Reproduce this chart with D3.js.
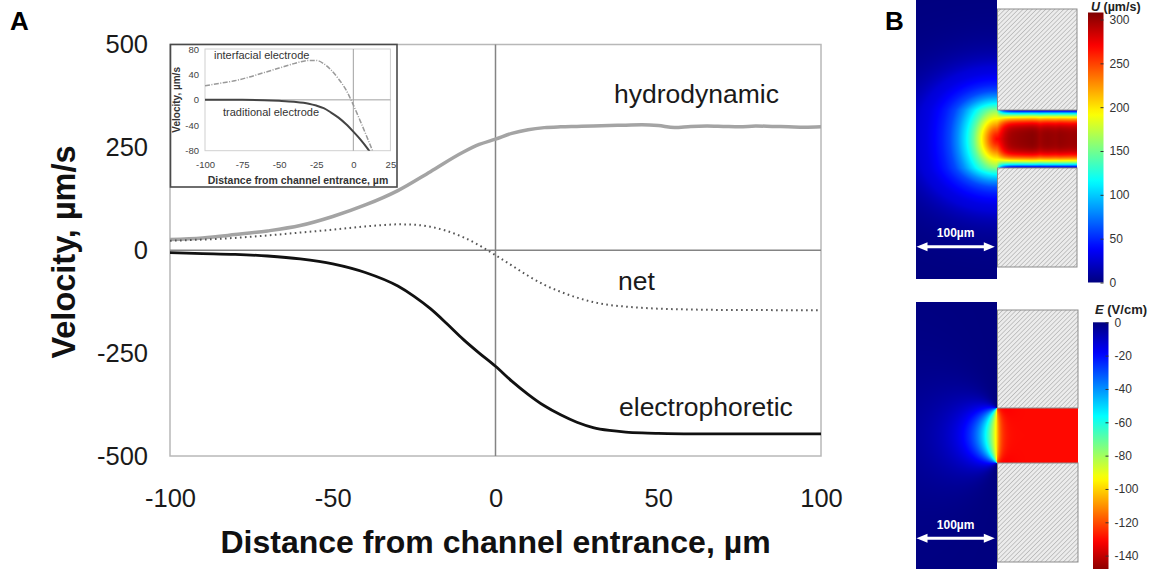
<!DOCTYPE html>
<html>
<head>
<meta charset="utf-8">
<script src="https://cdn.jsdelivr.net/npm/d3@7"></script>
<style>
  body { margin: 0; background: #fff; }
  svg { display: block; font-family: "Liberation Sans", Arial, sans-serif; }
</style>
</head>
<body>
<svg id="fig" width="1151" height="569"></svg>
<script>
// ---------- Panel A: velocity profiles along the channel axis (µm, µm/s) ----------
const hydroX = [-100,-90,-80,-70,-60,-50,-40,-30,-20,-10,-5,0,5,10,15,20,25,30,35,40,45,50,55,60,65,70,75,80,85,90,95,100];
const hydroV = [26,30,38,47,60,82,110,145,191,238,257,270,284,293,298,300,301,302,303,304,305,303,298,301,302,301,300,302,301,300,299,300];

const electroX = [-100,-90,-80,-70,-60,-50,-40,-30,-25,-20,-15,-10,-5,0,5,10,15,20,25,30,35,40,45,50,60,70,80,90,100];
const electroV = [-6,-8,-10,-14,-21,-33,-54,-87,-112,-142,-178,-216,-250,-282,-318,-350,-378,-400,-418,-431,-438,-442,-444,-445,-446,-446,-446,-446,-446];

const netX = [-100,-90,-80,-70,-60,-50,-40,-35,-30,-25,-20,-15,-10,-5,0,5,10,15,20,25,30,35,40,45,50,60,70,80,90,100];
const netV = [23,26,30,36,43,50,58,61,63,62,57,47,32,12,-12,-37,-62,-84,-101,-115,-126,-133,-137,-140,-142,-144,-145,-145,-146,-146];

const mainXTicks = [-100,-50,0,50,100];
const mainYTicks = [-500,-250,0,250,500];

// Inset: net velocity for the two electrode arrangements
const interfacialX = [-100,-90,-80,-70,-60,-50,-40,-30,-25,-20,-15,-10,-5,0,5,10,15];
const interfacialV = [22,26,30,36,43,50,57,62,62,57,47,33,16,-8,-35,-63,-92];
const traditionalX = [-100,-75,-60,-50,-40,-30,-25,-20,-15,-10,-5,0,5,10,15];
const traditionalV = [0,0,-0.5,-1.5,-3,-6,-9,-13,-20,-28,-38,-50,-63,-78,-95];

const insetXTicks = [-100,-75,-50,-25,0,25];
const insetYTicks = [-80,-40,0,40,80];

// ---------- Panel B: field maps ----------
const uTicks = [0,50,100,150,200,250,300];
const eTicks = [0,-20,-40,-60,-80,-100,-120,-140];
const uColorMax = 308;        // µm/s at the top of the U colour bar
const eColorMin = -150;       // V/cm at the bottom of the E colour bar
const eChannel = -130;        // uniform field inside the channel
const eEntrance = -100;       // field across the channel mouth
const eCorner = -20;          // extra field at the entrance corners

const FONT = '"Liberation Sans", Arial, sans-serif';
const svg = d3.select("#fig");
svg.append("rect").attr("width", 1151).attr("height", 569).attr("fill", "#fff");
const defs = svg.append("defs");

// ======================= Panel A =======================
const x = d3.scaleLinear([-100, 100], [170, 821]);
const y = d3.scaleLinear([-500, 500], [456, 44.5]);

svg.append("rect")
  .attr("x", x(-100)).attr("y", y(500))
  .attr("width", x(100) - x(-100)).attr("height", y(-500) - y(500))
  .attr("fill", "none").attr("stroke", "#b8b8b8").attr("stroke-width", 1.5);

svg.append("line").attr("x1", x(0)).attr("x2", x(0)).attr("y1", y(500)).attr("y2", y(-500))
  .attr("stroke", "#848484").attr("stroke-width", 1.5);
svg.append("line").attr("x1", x(-100)).attr("x2", x(100)).attr("y1", y(0)).attr("y2", y(0))
  .attr("stroke", "#848484").attr("stroke-width", 1.5);

const yAxis = svg.append("g").attr("transform", `translate(${x(-100)},0)`)
  .call(d3.axisLeft(y).tickValues(mainYTicks).tickSize(0).tickPadding(22).tickFormat(d => String(d)));
yAxis.select(".domain").remove();
yAxis.attr("font-family", FONT).attr("font-size", 25.5);
yAxis.selectAll("text").attr("fill", "#1a1a1a");

const xAxis = svg.append("g").attr("transform", `translate(0,${y(-500)})`)
  .call(d3.axisBottom(x).tickValues(mainXTicks).tickSize(0).tickPadding(33).tickFormat(d => String(d)));
xAxis.select(".domain").remove();
xAxis.attr("font-family", FONT).attr("font-size", 25.5);
xAxis.selectAll("text").attr("fill", "#1a1a1a");

const line = d3.line().x(d => x(d[0])).y(d => y(d[1])).curve(d3.curveMonotoneX);

svg.append("path").datum(d3.zip(hydroX, hydroV)).attr("d", line)
  .attr("fill", "none").attr("stroke", "#a4a4a4").attr("stroke-width", 3.5);
svg.append("path").datum(d3.zip(electroX, electroV)).attr("d", line)
  .attr("fill", "none").attr("stroke", "#111").attr("stroke-width", 2.8);
svg.append("path").datum(d3.zip(netX, netV)).attr("d", line)
  .attr("fill", "none").attr("stroke", "#555").attr("stroke-width", 2)
  .attr("stroke-dasharray", "1.6 3.4");

// curve labels
const curveLabel = (t, xv, yv) => svg.append("text").attr("x", xv).attr("y", yv)
  .attr("font-size", 26.5).attr("fill", "#1a1a1a").text(t);
curveLabel("hydrodynamic", 614, 103);
curveLabel("net", 618, 290);
curveLabel("electrophoretic", 619, 416);

// axis titles
svg.append("text").attr("transform", "translate(75,252) rotate(-90)")
  .attr("text-anchor", "middle").attr("font-size", 32.5).attr("font-weight", "bold")
  .attr("fill", "#111").text("Velocity, µm/s");
svg.append("text").attr("x", (x(-100) + x(100)) / 2).attr("y", 553)
  .attr("text-anchor", "middle").attr("font-size", 32).attr("font-weight", "bold")
  .attr("fill", "#111").text("Distance from channel entrance, µm");

// panel letters
svg.append("text").attr("x", 10).attr("y", 30).attr("font-size", 26).attr("font-weight", "bold").text("A");
svg.append("text").attr("x", 885).attr("y", 30).attr("font-size", 26).attr("font-weight", "bold").text("B");

// ----- inset -----
const inset = svg.append("g");
inset.append("rect").attr("x", 170.5).attr("y", 44.5).attr("width", 226.5).attr("height", 142.5)
  .attr("fill", "#fff").attr("stroke", "#4a4a4a").attr("stroke-width", 1.6);

const xi = d3.scaleLinear([-100, 25], [205, 390.4]);
const yi = d3.scaleLinear([-80, 80], [150.7, 49]);

inset.append("rect").attr("x", xi(-100)).attr("y", yi(80))
  .attr("width", xi(25) - xi(-100)).attr("height", yi(-80) - yi(80))
  .attr("fill", "none").attr("stroke", "#d0d0d0").attr("stroke-width", 1);
inset.append("line").attr("x1", xi(0)).attr("x2", xi(0)).attr("y1", yi(80)).attr("y2", yi(-80))
  .attr("stroke", "#a0a0a0").attr("stroke-width", 1);
inset.append("line").attr("x1", xi(-100)).attr("x2", xi(25)).attr("y1", yi(0)).attr("y2", yi(0))
  .attr("stroke", "#a0a0a0").attr("stroke-width", 1);

const yiAxis = inset.append("g").attr("transform", `translate(${xi(-100)},0)`)
  .call(d3.axisLeft(yi).tickValues(insetYTicks).tickSize(0).tickPadding(6).tickFormat(d => String(d)));
yiAxis.select(".domain").remove();
yiAxis.attr("font-family", FONT).attr("font-size", 9.5);
yiAxis.selectAll("text").attr("fill", "#444");

const xiAxis = inset.append("g").attr("transform", `translate(0,${yi(-80)})`)
  .call(d3.axisBottom(xi).tickValues(insetXTicks).tickSize(0).tickPadding(11).tickFormat(d => String(d)));
xiAxis.select(".domain").remove();
xiAxis.attr("font-family", FONT).attr("font-size", 9.5);
xiAxis.selectAll("text").attr("fill", "#444");

defs.append("clipPath").attr("id", "insetClip")
  .append("rect").attr("x", xi(-100)).attr("y", yi(80))
  .attr("width", xi(25) - xi(-100)).attr("height", yi(-80) - yi(80));

const lineI = d3.line().x(d => xi(d[0])).y(d => yi(d[1])).curve(d3.curveMonotoneX);
const insetCurves = inset.append("g").attr("clip-path", "url(#insetClip)");
insetCurves.append("path").datum(d3.zip(interfacialX, interfacialV)).attr("d", lineI)
  .attr("fill", "none").attr("stroke", "#9a9a9a").attr("stroke-width", 1.5)
  .attr("stroke-dasharray", "5 1.5 1 1.5");
insetCurves.append("path").datum(d3.zip(traditionalX, traditionalV)).attr("d", lineI)
  .attr("fill", "none").attr("stroke", "#444").attr("stroke-width", 2);

inset.append("text").attr("x", 214).attr("y", 58.5).attr("font-size", 11).attr("fill", "#333").text("interfacial electrode");
inset.append("text").attr("x", 223).attr("y", 116).attr("font-size", 11).attr("fill", "#333").text("traditional electrode");
inset.append("text").attr("transform", `translate(180,${yi(0)}) rotate(-90)`)
  .attr("text-anchor", "middle").attr("font-size", 10).attr("font-weight", "bold").attr("fill", "#333")
  .text("Velocity, µm/s");
inset.append("text").attr("x", 298).attr("y", 184).attr("text-anchor", "middle")
  .attr("font-size", 10.5).attr("font-weight", "bold").attr("fill", "#333")
  .text("Distance from channel entrance, µm");

// ======================= Panel B =======================
const jetStops = [0, 0.125, 0.375, 0.625, 0.875, 1];
const jetColors = ["#00007f", "#0000ff", "#00ffff", "#ffff00", "#ff0000", "#7f0000"];
const jet = (lo, hi) => d3.scaleLinear()
  .domain(jetStops.map(s => lo + s * (hi - lo))).range(jetColors)
  .interpolate(d3.interpolateRgb).clamp(true);
const colorU = jet(0, uColorMax);
const colorE = jet(0, eColorMin);

const pxPerUm = 0.783;
const panelU = { x0: 916, xEntr: 997, x1: 1077, y0: 0, y1: 279, blockY0: 9, blockY1: 267, chY0: 110, chY1: 168 };
const panelE = { x0: 916, xEntr: 997, x1: 1078, y0: 302, y1: 569, blockY0: 310, blockY1: 562, chY0: 408, chY1: 463 };

const hatch = defs.append("pattern").attr("id", "hatch").attr("patternUnits", "userSpaceOnUse")
  .attr("width", 3.2).attr("height", 3.2).attr("patternTransform", "rotate(45)");
hatch.append("rect").attr("width", 3.2).attr("height", 3.2).attr("fill", "#ececec");
hatch.append("line").attr("x1", 0).attr("y1", 0).attr("x2", 0).attr("y2", 3.2)
  .attr("stroke", "#9c9c9c").attr("stroke-width", 1);

// speed along the axis taken from the hydrodynamic profile; beyond the
// profile's range the speed keeps fading towards the far reservoir wall
const hydroAt = d3.scaleLinear().domain(hydroX).range(hydroV).clamp(true);
const speedAtDepth = um => um <= 100 ? hydroAt(-um) : hydroAt(-100) * Math.exp(-(um - 100) / 30);

function uField(px, py) {
  const g = panelU, cy = (g.chY0 + g.chY1) / 2, hw = (g.chY1 - g.chY0) / 2;
  const dx = px - g.xEntr, ady = Math.abs(py - cy);
  // rounded plume in front of the mouth: anisotropic distance from the mouth centre
  const vert = 0.75 * Math.min(ady, hw) + 1.3 * Math.max(0, ady - hw);
  const uRes = speedAtDepth(Math.hypot(Math.min(dx, 0), vert) / pxPerUm);
  if (dx < 0) return uRes;
  if (ady > hw) return null;
  const uCh = hydroAt(dx / pxPerUm) * (1 - Math.pow(ady / hw, 3.5));
  const w = Math.exp(-dx / 5);
  return w * uRes + (1 - w) * uCh;
}

function eField(px, py) {
  const g = panelE, cy = (g.chY0 + g.chY1) / 2, hw = (g.chY1 - g.chY0) / 2;
  const dx = px - g.xEntr;
  if (dx >= 0) {
    if (Math.abs(py - cy) > hw) return null;
    const dc = Math.min(Math.hypot(dx, py - (cy - hw)), Math.hypot(dx, py - (cy + hw)));
    return eChannel + (eEntrance - eChannel) * Math.exp(-dx / 4) + eCorner * Math.exp(-dc / 6);
  }
  // angle subtended by the channel mouth: level lines are arcs through both corners
  const ax = -dx, ay1 = (cy - hw) - py, ay2 = (cy + hw) - py;
  const theta = Math.atan2(ax * (ay2 - ay1), ax * ax + ay1 * ay2);
  return eEntrance * Math.pow(theta / Math.PI, 2);
}

function fieldImage(g, valueAt, color) {
  const w = g.x1 - g.x0, h = g.y1 - g.y0;
  const cv = document.createElement("canvas");
  cv.width = w; cv.height = h;
  const ctx = cv.getContext("2d");
  const img = ctx.createImageData(w, h);
  for (let j = 0; j < h; j++) {
    for (let i = 0; i < w; i++) {
      const v = valueAt(g.x0 + i + 0.5, g.y0 + j + 0.5);
      if (v === null) continue;
      const c = d3.rgb(color(v));
      const k = (j * w + i) * 4;
      img.data[k] = c.r; img.data[k + 1] = c.g; img.data[k + 2] = c.b; img.data[k + 3] = 255;
    }
  }
  ctx.putImageData(img, 0, 0);
  svg.append("image").attr("x", g.x0).attr("y", g.y0).attr("width", w).attr("height", h)
    .attr("preserveAspectRatio", "none").attr("href", cv.toDataURL());
}

function blocks(g) {
  [[g.blockY0, g.chY0], [g.chY1, g.blockY1]].forEach(([a, b]) => {
    svg.append("rect").attr("x", g.xEntr + 0.5).attr("y", a).attr("width", g.x1 - g.xEntr - 0.5).attr("height", b - a)
      .attr("fill", "url(#hatch)").attr("stroke", "#8c8c8c").attr("stroke-width", 1);
  });
}

function scaleBar(g, yPos) {
  const xa = g.x0 + 0.5, xb = g.x0 + 0.5 + 100 * pxPerUm;
  const sb = svg.append("g");
  sb.append("line").attr("x1", xa + 8).attr("x2", xb - 8).attr("y1", yPos).attr("y2", yPos)
    .attr("stroke", "#fff").attr("stroke-width", 3);
  sb.append("path").attr("d", `M${xa},${yPos}L${xa + 11},${yPos - 4.5}L${xa + 11},${yPos + 4.5}Z`).attr("fill", "#fff");
  sb.append("path").attr("d", `M${xb},${yPos}L${xb - 11},${yPos - 4.5}L${xb - 11},${yPos + 4.5}Z`).attr("fill", "#fff");
  sb.append("text").attr("x", (xa + xb) / 2).attr("y", yPos - 9.5).attr("text-anchor", "middle")
    .attr("font-size", 12).attr("font-weight", "bold").attr("fill", "#fff").text("100µm");
}

function colorBar(id, scale, color, xLeft, yTop, yBottom, ticks) {
  const grad = defs.append("linearGradient").attr("id", id)
    .attr("x1", 0).attr("y1", 0).attr("x2", 0).attr("y2", 1);
  d3.range(0, 1.0001, 0.02).forEach(t => {
    grad.append("stop").attr("offset", t).attr("stop-color", color(scale.invert(yTop + t * (yBottom - yTop))));
  });
  svg.append("rect").attr("x", xLeft).attr("y", yTop).attr("width", 15.5).attr("height", yBottom - yTop)
    .attr("fill", `url(#${id})`);
  const ax = svg.append("g").attr("transform", `translate(${xLeft + 15.5},0)`)
    .call(d3.axisRight(scale).tickValues(ticks).tickSize(-3).tickPadding(6).tickFormat(d => String(d)));
  ax.select(".domain").remove();
  ax.attr("font-family", FONT).attr("font-size", 12);
  ax.selectAll("text").attr("fill", "#333");
  ax.selectAll("line").attr("stroke", "#333");
}

// velocity magnitude map
fieldImage(panelU, uField, colorU);
blocks(panelU);
scaleBar(panelU, 246.7);
const cbU = d3.scaleLinear([0, uColorMax], [282.5, 12.5]);
colorBar("gradU", cbU, colorU, 1088, 12.5, 282.5, uTicks);
const tU = svg.append("text").attr("x", 1091).attr("y", 10.5).attr("font-size", 12.5).attr("font-weight", "bold").attr("fill", "#222");
tU.append("tspan").attr("font-style", "italic").text("U");
tU.append("tspan").text(" (µm/s)");

// electric field map
fieldImage(panelE, eField, colorE);
blocks(panelE);
scaleBar(panelE, 538.3);
const cbE = d3.scaleLinear([0, eColorMin], [322.3, 572.3]);
colorBar("gradE", cbE, colorE, 1093, 322.3, 569, eTicks);
const tE = svg.append("text").attr("x", 1095).attr("y", 313.5).attr("font-size", 13).attr("font-weight", "bold").attr("fill", "#222");
tE.append("tspan").attr("font-style", "italic").text("E");
tE.append("tspan").text(" (V/cm)");
</script>
</body>
</html>
